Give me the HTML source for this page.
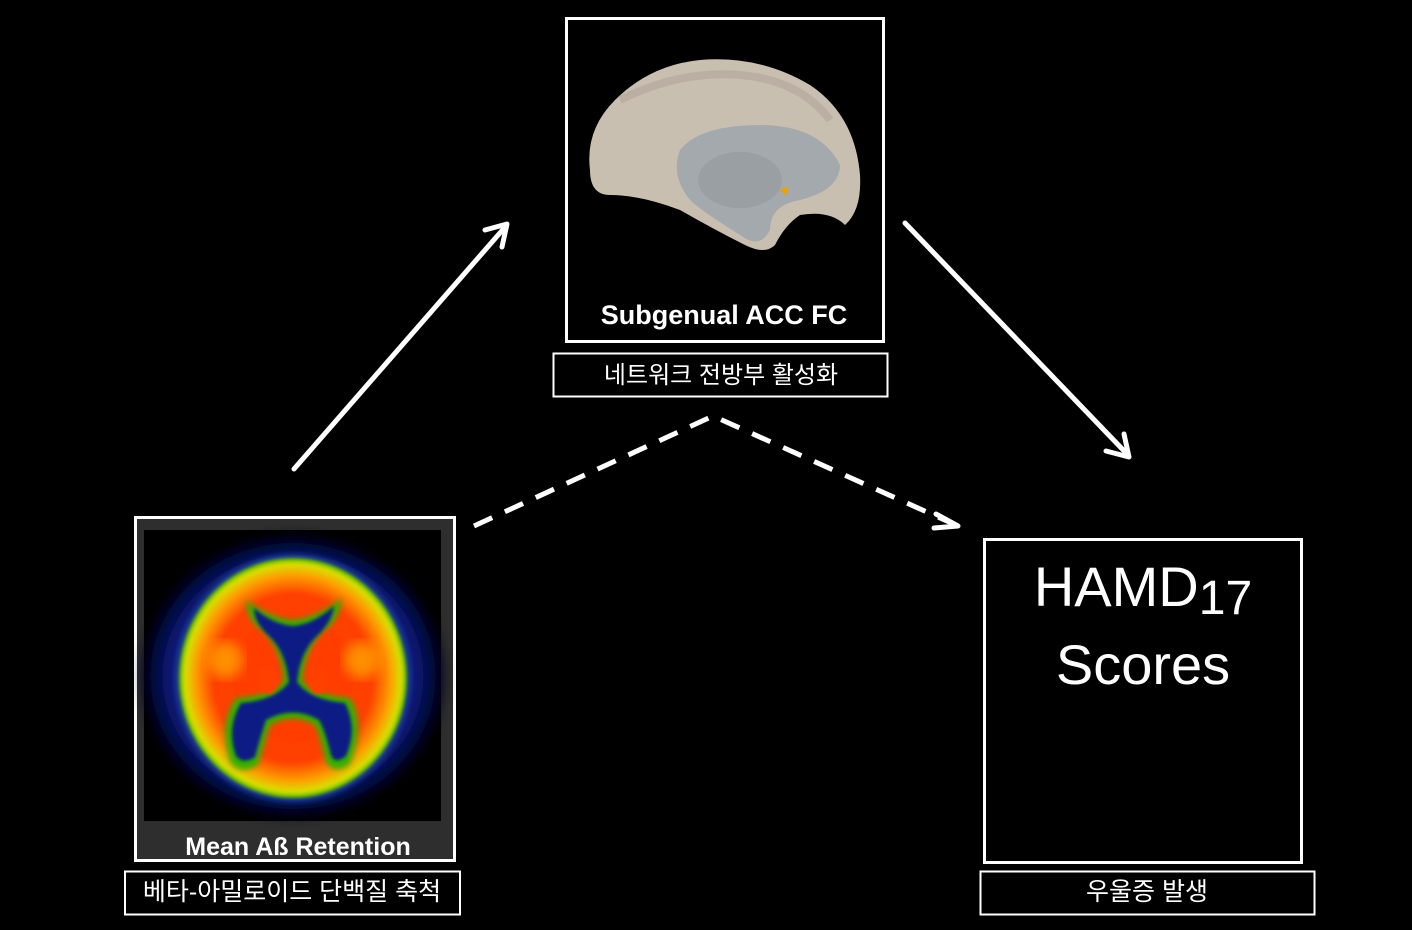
<!DOCTYPE html>
<html><head><meta charset="utf-8"><style>
html,body{margin:0;padding:0;background:#000;}
body{width:1412px;height:925px;overflow:hidden;}
text{font-family:"Liberation Sans","Noto Sans CJK KR",sans-serif;}
</style></head><body>
<svg width="1412" height="925" viewBox="0 0 1412 925" xmlns="http://www.w3.org/2000/svg">
<defs>
<filter id="b6"><feGaussianBlur stdDeviation="6"/></filter>
<filter id="b3"><feGaussianBlur stdDeviation="3"/></filter>
<filter id="b2"><feGaussianBlur stdDeviation="1.5"/></filter>
<radialGradient id="rg" cx="50%" cy="50%" r="50%">
<stop offset="0" stop-color="#ff3a00"/><stop offset="0.7" stop-color="#ff4000"/><stop offset="0.85" stop-color="#ff9a00"/><stop offset="0.95" stop-color="#d8e000"/><stop offset="1" stop-color="#40b000"/>
</radialGradient>
<radialGradient id="bg" cx="50%" cy="50%" r="50%">
<stop offset="0" stop-color="#102090"/><stop offset="0.8" stop-color="#0a1a80"/><stop offset="1" stop-color="#000010"/>
</radialGradient>
</defs>

<rect x="135.5" y="517.5" width="319" height="343" fill="#2e2e2e" stroke="#fff" stroke-width="3"/>
<rect x="144" y="530" width="297" height="291" fill="#000"/>
<g>
<ellipse cx="293" cy="676" rx="150" ry="140" fill="url(#bg)" filter="url(#b6)"/>
<ellipse cx="293" cy="678" rx="118" ry="124" fill="#1a3a90" filter="url(#b3)"/>
<ellipse cx="293" cy="678" rx="114" ry="120" fill="url(#rg)" filter="url(#b2)"/>
<circle cx="225" cy="660" r="18" fill="#ffb000" filter="url(#b6)" opacity="0.7"/>
<circle cx="362" cy="660" r="18" fill="#ffb000" filter="url(#b6)" opacity="0.7"/>
<path d="M246 600 Q270 618 293 620 Q316 618 342 598 Q340 620 322 632 Q305 650 302 680 Q312 695 350 698 Q366 725 350 764 Q335 776 326 762 Q320 735 315 725 Q293 712 270 725 Q265 740 258 765 Q240 776 230 762 Q218 725 236 698 Q275 695 284 680 Q281 650 264 632 Q246 620 246 600 Z" fill="#30b000" filter="url(#b3)"/>
<path d="M254 608 Q272 624 293 626 Q314 624 334 606 Q332 622 317 636 Q300 652 297 682 Q310 700 345 703 Q358 728 346 756 Q335 765 331 755 Q325 730 319 720 Q293 705 266 720 Q261 735 255 757 Q243 765 236 756 Q226 728 241 703 Q276 700 289 682 Q286 652 269 636 Q254 622 254 608 Z" fill="#0c1a85" filter="url(#b2)"/>
<ellipse cx="268" cy="680" rx="10" ry="14" fill="#ff4000" filter="url(#b2)"/>
<ellipse cx="318" cy="680" rx="10" ry="14" fill="#ff4000" filter="url(#b2)"/>
</g>
<text x="298" y="855" text-anchor="middle" font-size="25" font-weight="bold" fill="#fff">Mean Aß Retention</text>

<rect x="566.5" y="18.5" width="317" height="323" fill="#000" stroke="#fff" stroke-width="3"/>
<g>
<path d="M590 170 Q585 130 615 100 Q650 65 700 60 Q760 55 810 85 Q855 115 860 175 Q862 210 845 225 Q830 210 800 215 Q785 225 775 245 Q765 255 745 245 Q715 230 680 210 Q640 195 610 195 Q590 195 590 170 Z" fill="#c9bfb1"/>
<path d="M620 100 Q680 70 740 75 Q800 80 830 120" fill="none" stroke="#b0a598" stroke-width="8" opacity="0.6"/>
<path d="M680 150 Q700 125 760 125 Q820 125 840 165 Q840 190 800 200 Q770 205 770 230 Q760 250 740 235 Q700 210 690 200 Q670 175 680 150 Z" fill="#a4a9ad"/>
<ellipse cx="740" cy="180" rx="42" ry="28" fill="#9a9fa4"/>
<path d="M780 190 L788 186 L786 196 Z" fill="#f0a000"/>
</g>
<text x="724" y="324" text-anchor="middle" font-size="27" font-weight="bold" fill="#fff">Subgenual ACC FC</text>
<rect x="553.5" y="353.5" width="334" height="43" fill="#000" stroke="#fff" stroke-width="2"/>
<text x="721" y="383" text-anchor="middle" font-size="24" fill="#fff">네트워크 전방부 활성화</text>

<rect x="984.5" y="539.5" width="317" height="323" fill="#000" stroke="#fff" stroke-width="3"/>
<text x="1143" y="606" text-anchor="middle" font-size="56" fill="#fff">HAMD<tspan font-size="48" dy="8">17</tspan></text>
<text x="1143" y="684" text-anchor="middle" font-size="56" fill="#fff">Scores</text>

<rect x="125" y="871.5" width="335" height="43" fill="#000" stroke="#fff" stroke-width="2"/>
<text x="292" y="900" text-anchor="middle" font-size="25" fill="#fff">베타-아밀로이드 단백질 축척</text>
<rect x="980.5" y="871.5" width="334" height="43" fill="#000" stroke="#fff" stroke-width="2"/>
<text x="1147" y="900" text-anchor="middle" font-size="25" fill="#fff">우울증 발생</text>

<g stroke="#fff" stroke-width="5" fill="none" stroke-linecap="round" stroke-linejoin="round">
<line x1="294" y1="469" x2="506" y2="226"/>
<polyline points="485,230 507,224 502,247"/>
<line x1="905" y1="223" x2="1128" y2="455"/>
<polyline points="1106,451 1129,457 1124,434"/>
<polyline points="474,526 713,416 958,526" stroke-dasharray="20,14" stroke-linecap="butt"/>
<polyline points="936,514 958,526 934,528"/>
</g>
</svg>
</body></html>
